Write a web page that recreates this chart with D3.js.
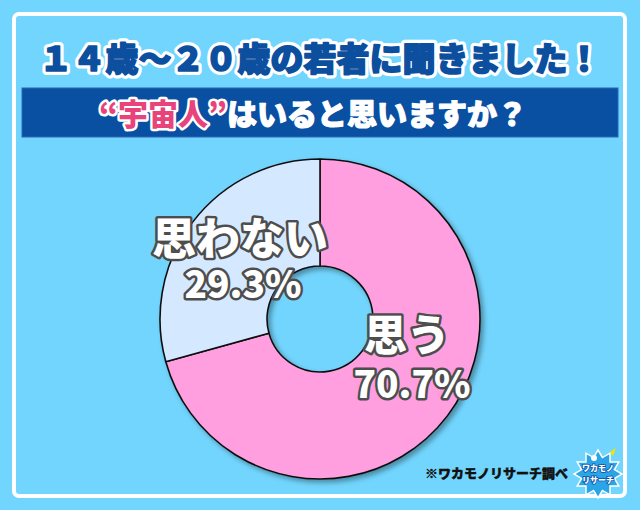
<!DOCTYPE html>
<html>
<head>
<meta charset="utf-8">
<script src="https://cdn.jsdelivr.net/npm/d3@7"></script>
<style>
  html, body { margin: 0; padding: 0; background: #72d5fd; }
  svg { display: block; }
  text { font-family: "Noto Sans CJK JP", "Noto Sans", sans-serif; }
</style>
</head>
<body>
<div id="chart"></div>
<script>
// data
const labels = ["思う", "思わない"];
const values = [70.7, 29.3];
const valueText = ["70.7%", "29.3%"];
const colors = ["#ff9fdf", "#d4e9ff"];

const title = "１４歳〜２０歳の若者に聞きました！";
const subtitleHot = "“宇宙人”";
const subtitleRest = "はいると思いますか？";
const source = "※ワカモノリサーチ調べ";

const width = 640, height = 510;
const cx = 320, cy = 319;
const outerR = 160, innerR = 53;

const svg = d3.select("#chart").append("svg")
  .attr("width", width)
  .attr("height", height);

const defs = svg.append("defs");
const shadow = defs.append("filter").attr("id", "shadow")
  .attr("x", "-20%").attr("y", "-20%").attr("width", "140%").attr("height", "140%");
shadow.append("feDropShadow")
  .attr("dx", 3).attr("dy", 3).attr("stdDeviation", 2.5)
  .attr("flood-color", "#000").attr("flood-opacity", 0.35);

// background + white frame
svg.append("rect")
  .attr("width", width).attr("height", height)
  .attr("fill", "#72d5fd");

svg.append("rect")
  .attr("x", 14).attr("y", 14)
  .attr("width", 611).attr("height", 482)
  .attr("rx", 5)
  .attr("fill", "#72d5fd")
  .attr("stroke", "#fff")
  .attr("stroke-width", 4);

// title: white halo, then fill with a thin same-colour stroke to make it heavier
const titleG = svg.append("g")
  .attr("text-anchor", "middle")
  .attr("font-size", 33)
  .attr("font-weight", 900)
  .attr("stroke-linejoin", "round");

titleG.append("text")
  .attr("x", 320).attr("y", 71)
  .attr("fill", "#fff")
  .attr("stroke", "#fff")
  .attr("stroke-width", 8)
  .text(title);

titleG.append("text")
  .attr("x", 320).attr("y", 71)
  .attr("fill", "#0d4f9f")
  .attr("stroke", "#0d4f9f")
  .attr("stroke-width", 1.6)
  .text(title);

// subtitle bar
svg.append("rect")
  .attr("x", 22).attr("y", 88)
  .attr("width", 596).attr("height", 49)
  .attr("fill", "#0a50a2")
  .attr("stroke", "#2a66b4")
  .attr("stroke-width", 1);

const sub = svg.append("text")
  .attr("x", 313).attr("y", 125)
  .attr("text-anchor", "middle")
  .attr("font-size", 30)
  .attr("font-weight", 900)
  .attr("stroke-linejoin", "round")
  .attr("paint-order", "stroke");

sub.append("tspan")
  .attr("fill", "#e8437a")
  .attr("stroke", "#fff")
  .attr("stroke-width", 5)
  .text(subtitleHot);

sub.append("tspan")
  .attr("fill", "#fff")
  .attr("stroke", "#fff")
  .attr("stroke-width", 1.2)
  .text(subtitleRest);

// donut
const pie = d3.pie().sort(null).value(d => d);
const arc = d3.arc().innerRadius(innerR).outerRadius(outerR);
const arcs = pie(values);

const g = svg.append("g")
  .attr("transform", `translate(${cx},${cy})`);

g.append("g")
  .attr("filter", "url(#shadow)")
  .selectAll("path")
  .data(arcs)
  .join("path")
  .attr("d", arc)
  .attr("fill", (d, i) => colors[i])
  .attr("stroke", "#111")
  .attr("stroke-width", 1.6)
  .attr("stroke-linejoin", "round");

// labels: name + percentage as two lines of one text
const labelPos = [
  { name: [407, 351], val: [412, 398], nameSize: 43 },
  { name: [240, 255], val: [243, 298], nameSize: 44 }
];

const lab = svg.append("g")
  .attr("text-anchor", "middle")
  .attr("font-weight", 900)
  .attr("fill", "#fff")
  .attr("stroke", "#4d4d4d")
  .attr("stroke-width", 5)
  .attr("stroke-linejoin", "round")
  .attr("paint-order", "stroke");

labels.forEach((name, i) => {
  const p = labelPos[i];
  const t = lab.append("text")
    .attr("x", p.name[0]).attr("y", p.name[1]);
  t.append("tspan")
    .attr("font-size", p.nameSize)
    .text(name);
  t.append("tspan")
    .attr("x", p.val[0])
    .attr("dy", p.val[1] - p.name[1])
    .attr("font-size", 37)
    .text(valueText[i]);
});

// source
svg.append("text")
  .attr("x", 568).attr("y", 478)
  .attr("text-anchor", "end")
  .attr("font-size", 13)
  .attr("font-weight", 900)
  .attr("fill", "#111")
  .attr("stroke", "#111")
  .attr("stroke-width", 0.4)
  .text(source);

// logo burst
const burst = d3.range(24).map(i => [i / 24 * 2 * Math.PI, i % 2 ? 17 : 24]);
const logo = svg.append("g").attr("transform", "translate(598,474)");
logo.append("path")
  .attr("d", d3.lineRadial().curve(d3.curveLinearClosed)(burst))
  .attr("fill", "#2aa5e8")
  .attr("stroke", "#fff")
  .attr("stroke-width", 1.5);
logo.append("circle").attr("cx", -4).attr("cy", -16).attr("r", 3).attr("fill", "#fff");
logo.append("path").attr("d", "M12,-22 L18,-26 L15,-18 Z").attr("fill", "#f5e300");
logo.append("text")
  .attr("x", 0).attr("y", -3)
  .attr("text-anchor", "middle")
  .attr("font-size", 8).attr("font-weight", 900)
  .attr("fill", "#fff").attr("stroke", "#0a50a2").attr("stroke-width", 1.5)
  .attr("paint-order", "stroke")
  .text("ワカモノ");
logo.append("text")
  .attr("x", 0).attr("y", 9)
  .attr("text-anchor", "middle")
  .attr("font-size", 8).attr("font-weight", 900)
  .attr("fill", "#fff").attr("stroke", "#0a50a2").attr("stroke-width", 1.5)
  .attr("paint-order", "stroke")
  .text("リサーチ");
</script>
</body>
</html>
